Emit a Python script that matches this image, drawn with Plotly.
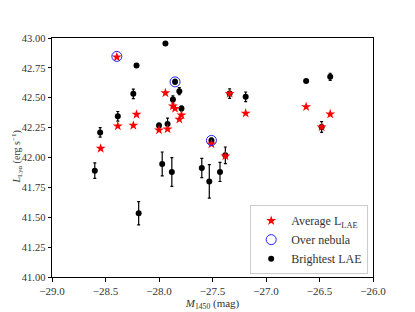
import plotly.graph_objects as go

# Brightest LAE (black points with error bars)
bright_x = [-28.60, -28.55, -28.385, -28.24, -28.21, -28.19, -27.94, -28.00, -27.97, -27.92,
            -27.88, -27.87, -27.85, -27.81, -27.79, -27.60, -27.53, -27.51, -27.43, -27.38,
            -27.34, -27.19, -26.625, -26.48, -26.40]
bright_y = [41.89, 42.21, 42.345, 42.533, 42.77, 41.534, 42.953, 42.268, 41.946, 42.28,
            41.879, 42.485, 42.633, 42.555, 42.41, 41.912, 41.80, 42.143, 41.879, 42.018,
            42.535, 42.508, 42.641, 42.255, 42.675]
bright_err = [0.065, 0.04, 0.04, 0.04, 0.01, 0.097, 0.01, 0.02, 0.10, 0.05,
              0.12, 0.03, 0.02, 0.03, 0.02, 0.08, 0.14, 0.02, 0.08, 0.07,
              0.04, 0.04, 0.01, 0.045, 0.03]

# Average L_LAE (red stars)
avg_x = [-28.394, -28.545, -28.385, -28.24, -28.21, -28.00, -27.94, -27.92, -27.87, -27.85,
         -27.81, -27.79, -27.51, -27.38, -27.34, -27.19, -26.625, -26.48, -26.40]
avg_y = [42.84, 42.076, 42.263, 42.268, 42.36, 42.23, 42.54, 42.238, 42.43, 42.41,
         42.32, 42.355, 42.113, 42.012, 42.535, 42.37, 42.424, 42.255, 42.363]

# Over nebula (blue open circles)
neb_x = [-28.394, -27.85, -27.51]
neb_y = [42.846, 42.633, 42.143]

x_ticks = [-29.0, -28.5, -28.0, -27.5, -27.0, -26.5, -26.0]
y_ticks = [41.00, 41.25, 41.50, 41.75, 42.00, 42.25, 42.50, 42.75, 43.00]

FONT = "Liberation Serif"

fig = go.Figure()
fig.add_trace(go.Scatter(
    x=bright_x, y=bright_y, mode="markers", name="Brightest LAE", legendrank=3,
    marker=dict(color="black", size=6),
    error_y=dict(type="data", array=bright_err, color="black", thickness=1.2, width=1.5),
))
fig.add_trace(go.Scatter(
    x=avg_x, y=avg_y, mode="markers", name="Average L<sub>LAE</sub>", legendrank=1,
    marker=dict(color="red", size=7.5, symbol="star", line=dict(width=0)),
))
fig.add_trace(go.Scatter(
    x=neb_x, y=neb_y, mode="markers", name="Over nebula", legendrank=2,
    marker=dict(color="#2222ff", size=10, symbol="circle-open",
                line=dict(color="#2222ff", width=1)),
))

axis_common = dict(
    showgrid=False, zeroline=False, showline=True, linecolor="black", linewidth=1,
    mirror=True, ticks="outside", ticklen=3.5, tickcolor="black", tickwidth=1,
    tickfont=dict(family=FONT, size=11, color="#333"), automargin=False,
)
fig.update_xaxes(
    range=[-29, -26], tickvals=x_ticks,
    ticktext=["\u2212%.1f" % abs(v) for v in x_ticks],
    title=dict(text="<i>M</i><sub>1450</sub> (mag)", font=dict(family=FONT, size=11, color="#333"),
               standoff=2),
    **axis_common,
)
fig.update_yaxes(
    range=[41, 43], tickvals=y_ticks, ticktext=["%.2f" % v for v in y_ticks],
    **axis_common,
)
fig.update_yaxes(tickfont=dict(size=10.5))
fig.add_annotation(
    xref="paper", yref="paper", x=-44 / 321, y=0.5, xanchor="left", yanchor="middle",
    text="<i>L</i><sub>Ly\u03b1</sub> (erg s<sup>\u22121</sup>)", textangle=-90,
    showarrow=False, font=dict(family=FONT, size=10, color="#333"), borderpad=0,
)
fig.update_layout(
    width=407, height=304,
    margin=dict(l=44, r=42, t=30, b=35),
    plot_bgcolor="white", paper_bgcolor="white",
    font=dict(family=FONT),
    showlegend=True,
    legend=dict(
        x=0.985, y=0.012, xanchor="right", yanchor="bottom",
        bgcolor="white", bordercolor="#cccccc", borderwidth=1,
        font=dict(family=FONT, size=12, color="#333"),
        tracegroupgap=0, itemsizing="trace",
    ),
)
fig.write_html("out.html")
